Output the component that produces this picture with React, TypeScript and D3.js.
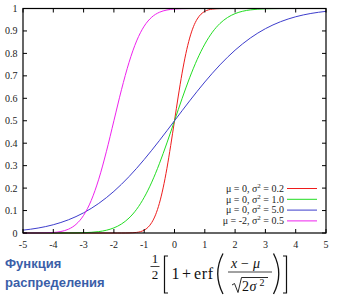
import React from "react";
import * as d3 from "d3";

const xTicks = [-5, -4, -3, -2, -1, 0, 1, 2, 3, 4, 5];
const yTicks = [0, 0.1, 0.2, 0.3, 0.4, 0.5, 0.6, 0.7, 0.8, 0.9, 1];
const yTickLabels = ["0", "0.1", "0.2", "0.3", "0.4", "0.5", "0.6", "0.7", "0.8", "0.9", "1"];

const redX = [-5, -2, -1.875, -1.75, -1.625, -1.5, -1.375, -1.25, -1.125, -1, -0.875, -0.75, -0.625, -0.5, -0.375, -0.25, -0.125, 0, 0.125, 0.25, 0.375, 0.5, 0.625, 0.75, 0.875, 1, 1.125, 1.25, 1.375, 1.5, 1.625, 1.75, 1.875, 2, 5];
const redY = [0, 0, 0, 0, 0.0001, 0.0004, 0.0011, 0.0026, 0.0059, 0.0127, 0.0252, 0.0468, 0.0811, 0.1318, 0.2009, 0.2881, 0.3899, 0.5, 0.6101, 0.7119, 0.7991, 0.8682, 0.9189, 0.9532, 0.9748, 0.9873, 0.9941, 0.9974, 0.9989, 0.9996, 0.9999, 1, 1, 1, 1];

const greenX = [-5, -4.75, -4.5, -4.25, -4, -3.75, -3.5, -3.25, -3, -2.75, -2.5, -2.25, -2, -1.75, -1.5, -1.25, -1, -0.75, -0.5, -0.25, 0, 0.25, 0.5, 0.75, 1, 1.25, 1.5, 1.75, 2, 2.25, 2.5, 2.75, 3, 3.25, 3.5, 3.75, 4, 4.25, 4.5, 4.75, 5];
const greenY = [0, 0, 0, 0, 0, 0.0001, 0.0002, 0.0006, 0.0013, 0.003, 0.0062, 0.0122, 0.0228, 0.0401, 0.0668, 0.1056, 0.1587, 0.2266, 0.3085, 0.4013, 0.5, 0.5987, 0.6915, 0.7734, 0.8413, 0.8944, 0.9332, 0.9599, 0.9772, 0.9878, 0.9938, 0.997, 0.9987, 0.9994, 0.9998, 0.9999, 1, 1, 1, 1, 1];

const blueX = [-5, -4.5, -4, -3.5, -3, -2.5, -2, -1.5, -1, -0.5, 0, 0.5, 1, 1.5, 2, 2.5, 3, 3.5, 4, 4.5, 5];
const blueY = [0.0127, 0.0221, 0.0368, 0.0588, 0.0899, 0.1318, 0.1855, 0.2512, 0.3274, 0.4115, 0.5, 0.5885, 0.6726, 0.7488, 0.8145, 0.8682, 0.9101, 0.9412, 0.9632, 0.9779, 0.9873];

const magentaX = [-5, -4.75, -4.5, -4.25, -4, -3.75, -3.5, -3.25, -3, -2.75, -2.5, -2.25, -2, -1.75, -1.5, -1.25, -1, -0.75, -0.5, -0.25, 0, 0.25, 0.5, 0.75, 1, 5];
const magentaY = [0, 0, 0.0002, 0.0007, 0.0023, 0.0067, 0.0169, 0.0385, 0.0786, 0.1444, 0.2398, 0.3618, 0.5, 0.6382, 0.7602, 0.8556, 0.9214, 0.9615, 0.9831, 0.9933, 0.9977, 0.9993, 0.9998, 1, 1, 1];

const seriesNames = ["red", "green", "blue", "magenta"];
const seriesMu = ["0", "0", "0", "-2"];
const seriesVar = ["0.2", "1.0", "5.0", "0.5"];
const seriesColors = ["#ee1c1c", "#22dd22", "#3d3dcc", "#ee22ee"];

const series = [
  { x: redX, y: redY },
  { x: greenX, y: greenY },
  { x: blueX, y: blueY },
  { x: magentaX, y: magentaY },
];

const W = 337;
const H = 295;
const L = 23, R = 326, T = 8.5, B = 233;

const serif = "Liberation Serif, Tinos, Times New Roman, DejaVu Serif, serif";
const sans = "Liberation Sans, Arimo, Arial, DejaVu Sans, sans-serif";

export default function App() {
  const xs = d3.scaleLinear().domain([-5, 5]).range([L, R]);
  const ys = d3.scaleLinear().domain([0, 1]).range([B, T]);
  const line = d3
    .line<[number, number]>()
    .x((d) => xs(d[0]))
    .y((d) => ys(d[1]))
    .curve(d3.curveMonotoneX);

  const tickLen = 4;

  return (
    <div style={{ position: "absolute", left: 0, top: 0 }}>
      <svg width={W} height={H} style={{ display: "block", background: "#ffffff", fontFamily: serif }}>
        {series.map((s, i) => (
          <path
            key={seriesNames[i]}
            d={line(s.x.map((v, j) => [v, s.y[j]] as [number, number])) || ""}
            fill="none"
            stroke={seriesColors[i]}
            strokeWidth={1}
          />
        ))}
        {xTicks.map((t) => (
          <g key={"xt" + t}>
            <line x1={xs(t)} x2={xs(t)} y1={B} y2={B - tickLen} stroke="#000" strokeWidth={1} />
            <line x1={xs(t)} x2={xs(t)} y1={T} y2={T + tickLen} stroke="#000" strokeWidth={1} />
            <text x={xs(t)} y={247.5} textAnchor="middle" style={{ fontFamily: serif }} fontSize={10} fill="#222">
              {String(t)}
            </text>
          </g>
        ))}
        {yTicks.map((t, i) => (
          <g key={"yt" + t}>
            <line x1={L} x2={L + tickLen} y1={ys(t)} y2={ys(t)} stroke="#000" strokeWidth={1} />
            <line x1={R} x2={R - tickLen} y1={ys(t)} y2={ys(t)} stroke="#000" strokeWidth={1} />
            <text x={17.5} y={ys(t) + 3.5} textAnchor="end" style={{ fontFamily: serif }} fontSize={10} fill="#222">
              {yTickLabels[i]}
            </text>
          </g>
        ))}
        <rect x={L} y={T} width={R - L} height={B - T} fill="none" stroke="#000" strokeWidth={1.2} />

        {seriesNames.map((n, i) => {
          const yy = 188.5 + i * 10.8;
          return (
            <g key={"lg" + n}>
              <text x={284} y={yy + 3.2} textAnchor="end" style={{ fontFamily: serif }} fontSize={10} fill="#222">
                {"μ = " + (seriesMu[i] === "-2" ? "" : " ") + seriesMu[i] + ", σ"}
                <tspan dy={-4} fontSize={7}>2</tspan>
                <tspan dy={4}>{" = " + seriesVar[i]}</tspan>
              </text>
              <line x1={287} x2={317} y1={yy} y2={yy} stroke={seriesColors[i]} strokeWidth={1} />
            </g>
          );
        })}

        <text x={5} y={268} style={{ fontFamily: sans }} fontWeight="bold" fontSize={13} fill="#3a5ea8">
          Функция
        </text>
        <text x={5} y={287} style={{ fontFamily: sans }} fontWeight="bold" fontSize={13} fill="#3a5ea8">
          распределения
        </text>

        <g fill="#111" stroke="none" style={{ fontFamily: serif }}>
          <text x={155} y={263} textAnchor="middle" fontSize={13}>1</text>
          <line x1={150.5} x2={159.5} y1={266.5} y2={266.5} stroke="#111" strokeWidth={0.8} />
          <text x={155} y={278.5} textAnchor="middle" fontSize={13}>2</text>
          <path d="M168,256 H164.5 V293 H168" fill="none" stroke="#111" strokeWidth={1.2} />
          <text x={171.5} y={279} fontSize={16}>1</text>
          <text x={186.5} y={279} fontSize={16} textAnchor="middle">+</text>
          <text x={194} y={279} fontSize={16} letterSpacing={0.6}>erf</text>
          <path d="M223,253.5 Q212.5,273.5 223,294" fill="none" stroke="#111" strokeWidth={1.3} />
          <text x={231} y={268} fontSize={14} fontStyle="italic">x</text>
          <text x={245} y={268} fontSize={14} textAnchor="middle">−</text>
          <text x={253} y={268} fontSize={14} fontStyle="italic">μ</text>
          <line x1={228} x2={272} y1={272} y2={272} stroke="#111" strokeWidth={0.8} />
          <path d="M232,285 L234.5,283.5 L238,292.5 L241.5,277.5 H268" fill="none" stroke="#111" strokeWidth={0.9} />
          <text x={242} y={291} fontSize={14}>2</text>
          <text x={249.5} y={291} fontSize={14} fontStyle="italic">σ</text>
          <text x={259.5} y={285.5} fontSize={10}>2</text>
          <path d="M273.5,253.5 Q284,273.5 273.5,294" fill="none" stroke="#111" strokeWidth={1.3} />
          <path d="M283,256 H286.5 V293 H283" fill="none" stroke="#111" strokeWidth={1.2} />
        </g>
      </svg>
    </div>
  );
}
